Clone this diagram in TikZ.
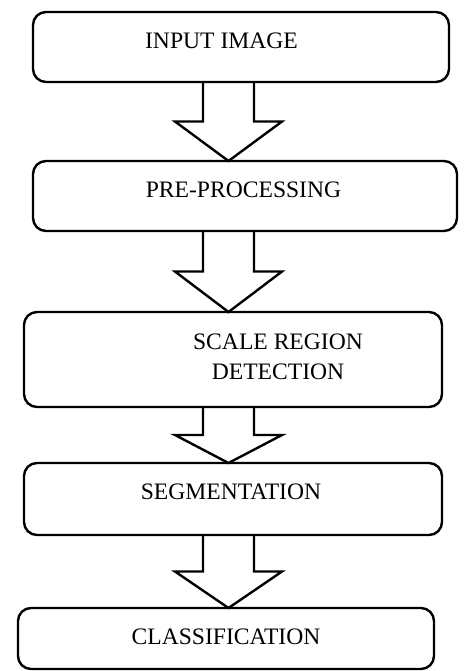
\documentclass[tikz,border=0pt]{standalone}
\usepackage{fontspec}
\setmainfont{Liberation Serif}
\usetikzlibrary{calc}

\newcommand{\hollowarrow}[2]{%
  \coordinate (top) at (ax |- #1.south);
  \coordinate (tip) at (ax |- #2.north);
  \coordinate (mid) at ($(top)!0.5!(tip)$);
  \draw[blockline] ($(top)+(-25.5,0)$) -- ($(mid)+(-25.5,0)$) -- ($(mid)+(-53.5,0)$) -- (tip)
    -- ($(mid)+(53.5,0)$) -- ($(mid)+(25.5,0)$) -- ($(top)+(25.5,0)$);}

\begin{document}
\begin{tikzpicture}[x=1pt, y=-1pt,
    stepbox/.style={draw, line width=2.4pt, rounded corners=13pt, inner sep=0pt, outer sep=0pt},
    blockline/.style={line width=2.4pt, line join=miter},
    steptext/.style={font=\fontsize{23.6}{30}\selectfont, align=center, inner sep=0pt}]
  \useasboundingbox (0,0) rectangle (464,671);
  \coordinate (ax) at (228.5,0);

  \node[stepbox, minimum width=416pt, minimum height=70pt] (input) at (241,47) {};
  \node[stepbox, minimum width=424pt, minimum height=70pt] (prep) at (245,196) {};
  \node[stepbox, minimum width=418pt, minimum height=95pt] (scale) at (233,359.5) {};
  \node[stepbox, minimum width=418pt, minimum height=72pt] (seg) at (233,499) {};
  \node[stepbox, minimum width=416pt, minimum height=61pt] (cls) at (226,638.5) {};

  \node[steptext] (inputtxt) at (221.5,40.5) {INPUT IMAGE};
  \node[steptext] (preptxt) at (243.5,190) {PRE-PROCESSING};
  \node[steptext] (scaletxt) at (278,356.5) {SCALE REGION\\DETECTION};
  \node[steptext] (segtxt) at (231,491.5) {SEGMENTATION};
  \node[steptext] (clstxt) at (226,636.5) {CLASSIFICATION};

  \hollowarrow{input}{prep}
  \hollowarrow{prep}{scale}
  \hollowarrow{scale}{seg}
  \hollowarrow{seg}{cls}
\end{tikzpicture}
\end{document}
